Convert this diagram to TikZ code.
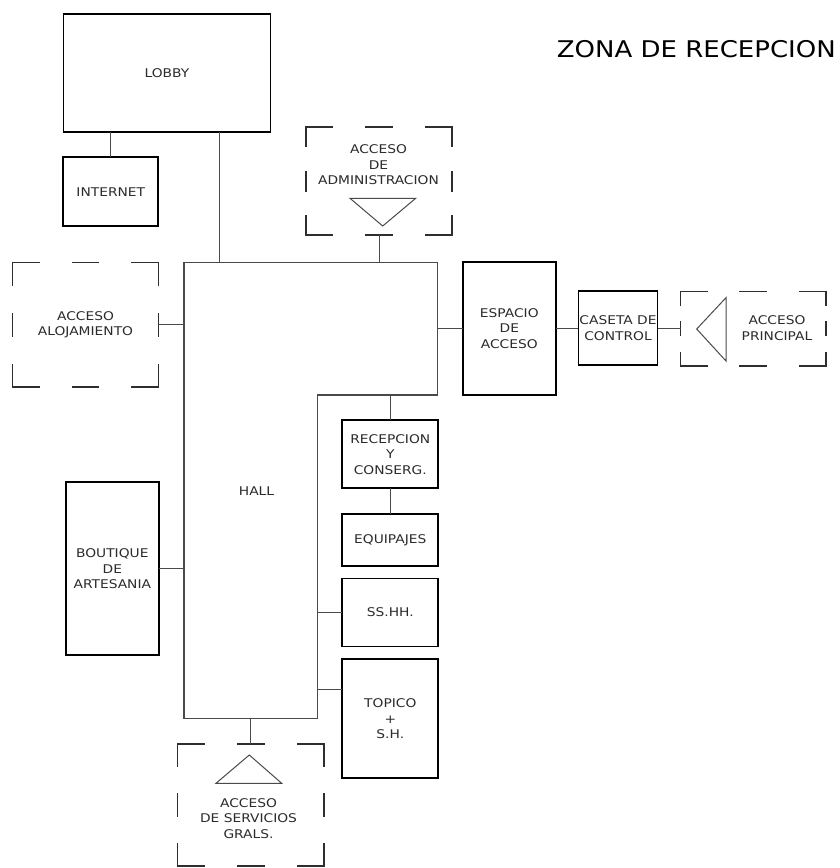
\documentclass[tikz,border=0pt]{standalone}
\usepackage{fontspec}
\usepackage{tikz}
\usetikzlibrary{positioning,calc}
\newfontfamily\salafont[FakeStretch=1.15]{DejaVu Sans}
\newfontfamily\titulofont[FakeStretch=1.13]{DejaVu Sans}
\definecolor{zLine}{HTML}{4A4A4A}
\definecolor{zText}{HTML}{2B2B2B}
\definecolor{zFrame}{HTML}{2E2E2E}
\tikzset{
  sala/.style={draw=black, line width=1.8pt, align=center, inner sep=1pt, outer sep=0pt, font=\salafont\fontsize{12}{15.5}\selectfont, text=zText},
  acceso/.style={draw=none, align=center, inner sep=0pt, outer sep=0pt, font=\salafont\fontsize{12}{15.5}\selectfont, text=zText},
  rotulo/.style={align=center, inner sep=0pt, font=\salafont\fontsize{12}{15.5}\selectfont, text=zText},
  union/.style={draw=zLine, line width=1.3pt},
  marco/.style={draw=zFrame, line width=1.5pt, line cap=rect},
  flecha/.style={draw=zLine, line width=1pt, line join=miter}
}
% dashed frame of an access node: three dashes per side
\newdimen\fax \newdimen\fay \newdimen\fbx \newdimen\fby
\newcommand\accframe[1]{%
  \pgfextractx{\fax}{\pgfpointanchor{#1}{north west}}%
  \pgfextracty{\fay}{\pgfpointanchor{#1}{north west}}%
  \pgfextractx{\fbx}{\pgfpointanchor{#1}{south east}}%
  \pgfextracty{\fby}{\pgfpointanchor{#1}{south east}}%
  \pgfmathsetmacro\dw{0.18*(\fbx-\fax)}%
  \pgfmathsetmacro\gw{0.23*(\fbx-\fax)}%
  \pgfmathsetmacro\dh{0.18*(\fay-\fby)}%
  \pgfmathsetmacro\gh{0.23*(\fay-\fby)}%
  \draw[marco, dash pattern=on \dw pt off \gw pt] (#1.north west) -- (#1.north east) (#1.south west) -- (#1.south east);
  \draw[marco, dash pattern=on \dh pt off \gh pt] (#1.north west) -- (#1.south west) (#1.north east) -- (#1.south east);
}

\begin{document}
\begin{tikzpicture}[x=1pt,y=-1pt]
  \useasboundingbox (0,0) rectangle (840,868);
  \node[anchor=base, font=\titulofont\fontsize{23}{28}\selectfont, text=black, inner sep=0pt] (titulo) at (696.3,57.3) {ZONA DE RECEPCION};
  % rooms
  \node[sala, minimum width=207pt, minimum height=118pt] (lobby) at (167,73) {LOBBY};
  \node[sala, minimum width=95pt, minimum height=69pt] (internet) at (110.8,191.7) {INTERNET};
  \node[sala, minimum width=93pt, minimum height=133pt] (esp) at (509.3,328.3) {ESPACIO\\DE\\ACCESO};
  \node[sala, minimum width=74pt, minimum height=74pt] (caseta) at (618,328.3) {CASETA DE\\CONTROL};
  \node[sala, minimum width=96pt, minimum height=68pt] (recep) at (390.3,454.2) {RECEPCION\\Y\\CONSERG.};
  \node[sala, minimum width=96pt, minimum height=52pt] (equip) at (390.3,539.8) {EQUIPAJES};
  \node[sala, minimum width=96pt, minimum height=68pt] (sshh) at (390.3,612.5) {SS.HH.};
  \node[sala, minimum width=96pt, minimum height=119pt] (topico) at (390.3,718.8) {TOPICO\\+\\S.H.};
  \node[sala, minimum width=93pt, minimum height=173pt] (boutique) at (112.3,568.7) {BOUTIQUE\\DE\\ARTESANIA};
  % hall (L shape)
  \node[draw=none, inner sep=0pt, outer sep=0pt, minimum width=253.5pt, minimum height=456pt] (hall) at (310.8,490.3) {};
  \coordinate (muesca) at (317.5,395);
  \draw[union] (hall.south west) -- (hall.north west) -- (hall.north east) -- (hall.east |- muesca) -- (muesca) -- (muesca |- hall.south) -- cycle;
  \node[rotulo] (hallt) at (256.5,491.5) {HALL};
  % accesses
  \node[acceso, minimum width=146pt, minimum height=108pt] (adm) at (379.2,181.2) {};
  \node[rotulo] (admt) at (378.5,165) {ACCESO\\DE\\ADMINISTRACION};
  \node[acceso, minimum width=145.6pt, minimum height=124.6pt] (aloj) at (85.5,324.8) {ACCESO\\ALOJAMIENTO};
  \node[acceso, minimum width=145.3pt, minimum height=74.3pt] (princ) at (753.3,328.8) {};
  \node[rotulo] (princt) at (777,328) {ACCESO\\PRINCIPAL};
  \node[acceso, minimum width=146.7pt, minimum height=122pt] (serv) at (250.7,805) {};
  \node[rotulo] (servt) at (248.5,818.6) {ACCESO\\DE SERVICIOS\\GRALS.};
  \accframe{adm}
  \accframe{aloj}
  \accframe{princ}
  \accframe{serv}
  \draw[flecha] (350,198.3) -- (415.7,198.3) -- (382.7,226) -- cycle;
  \draw[flecha] (249.3,755) -- (281.7,783.3) -- (216,783.3) -- cycle;
  \draw[flecha] (696.7,329) -- (726,297.7) -- (726,361) -- cycle;
  % connections
  \draw[union] (internet.north) -- (internet.north |- lobby.south);
  \draw[union] ([xshift=52.5pt]lobby.south) -- ([xshift=52.5pt]lobby.south |- hall.north);
  \draw[union] (adm.south) -- (adm.south |- hall.north);
  \draw[union] (aloj.east) -- (aloj.east -| hall.west);
  \draw[union] (esp.west) -- (esp.west -| hall.east);
  \draw[union] (esp.east) -- (caseta.west);
  \draw[union] (caseta.east) -- (caseta.east -| princ.west);
  \draw[union] (recep.north) -- (recep.north |- muesca);
  \draw[union] (recep.south) -- (equip.north);
  \draw[union] (sshh.west) -- (sshh.west -| muesca);
  \draw[union] ([yshift=29.3pt]topico.west) -- ([yshift=29.3pt]topico.west -| muesca);
  \draw[union] (boutique.east) -- (boutique.east -| hall.west);
  \draw[union] (serv.north) -- (serv.north |- hall.south);
\end{tikzpicture}
\end{document}
